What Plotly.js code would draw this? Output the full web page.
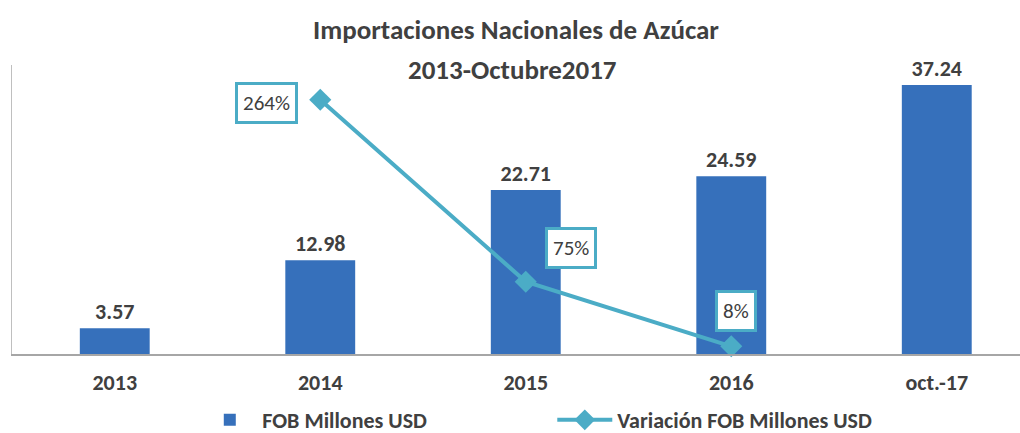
<!DOCTYPE html>
<html>
<head>
<meta charset="utf-8">
<script src="https://cdn.plot.ly/plotly-3.0.1.min.js"></script>
<style>html,body{margin:0;padding:0;background:#fff;}#chart{width:1020px;height:433px;}</style>
</head>
<body>
<div id="chart"></div>
<script>
const categories = ["2013", "2014", "2015", "2016", "oct.-17"];
const fobValues = [3.57, 12.98, 22.71, 24.59, 37.24];
const varCategories = ["2014", "2015", "2016"];
const varValues = [264, 75, 8];
const varLabels = ["264%", "75%", "8%"];
const seriesNames = ["FOB Millones USD", "Variación FOB Millones USD"];
const titleLine1 = "Importaciones Nacionales de Azúcar";
const titleLine2 = "2013-Octubre2017";

const FONT = "Carlito, Lato, 'Open Sans', sans-serif";
const DARK = "#404040";
const TEAL = "#4bacc6";

const labelShifts = [[-54, -3], [45, 34], [5, 35]];

const traces = [
  {
    type: "bar",
    x: categories,
    y: fobValues,
    name: seriesNames[0],
    width: 0.34,
    marker: {color: "#3670bb", line: {width: 0}},
    text: fobValues.map(v => v.toFixed(2)),
    textposition: "outside",
    cliponaxis: false,
    textfont: {family: FONT, size: 22, color: DARK, weight: "bold"},
    hoverinfo: "skip"
  },
  {
    type: "scatter",
    mode: "lines+markers",
    x: varCategories,
    y: varValues,
    yaxis: "y2",
    name: seriesNames[1],
    line: {color: TEAL, width: 4},
    marker: {symbol: "diamond", size: 17, color: TEAL},
    cliponaxis: false,
    hoverinfo: "skip"
  }
];

const annotations = varCategories.map((c, i) => ({
  x: categories.indexOf(c), y: varValues[i], xref: "x", yref: "y2",
  text: varLabels[i], showarrow: false,
  xshift: labelShifts[i][0], yshift: labelShifts[i][1],
  font: {family: FONT, size: 21, color: DARK},
  bgcolor: "#ffffff", bordercolor: TEAL, borderwidth: 3, borderpad: 5
}));
annotations.push({
  xref: "paper", yref: "paper", x: 0.497, y: 1, yanchor: "middle", yshift: -4,
  text: "<b>" + titleLine2 + "</b>", showarrow: false,
  font: {family: FONT, size: 27, color: DARK}
});

const layout = {
  width: 1020, height: 433,
  margin: {l: 12, r: 0, t: 65, b: 79},
  paper_bgcolor: "#ffffff", plot_bgcolor: "#ffffff",
  title: {
    text: "<b>" + titleLine1 + "</b>",
    x: 0.5, xref: "paper", xanchor: "center",
    y: 1 - 30 / 433, yref: "container", yanchor: "middle",
    font: {family: FONT, size: 27, color: DARK}
  },
  xaxis: {
    type: "category",
    range: [-0.5, 4.405],
    showline: true, linecolor: "#a6a6a6", linewidth: 2,
    ticks: "", showgrid: false, zeroline: false,
    tickfont: {family: FONT, size: 22, color: DARK, weight: "bold"},
    ticklabelstandoff: 8
  },
  yaxis: {
    range: [0, 40], showline: true, linecolor: "#bfbfbf", linewidth: 1,
    showticklabels: false, ticks: "", showgrid: false, zeroline: false
  },
  yaxis2: {
    range: [0, 300], overlaying: "y", side: "right",
    showline: false, showticklabels: false, ticks: "", showgrid: false, zeroline: false
  },
  showlegend: true,
  legend: {
    orientation: "h", x: 0.536, xanchor: "center",
    yref: "container", y: 13 / 433, yanchor: "middle",
    font: {family: FONT, size: 22, color: DARK, weight: "bold"},
    entrywidth: 285, itemwidth: 55
  },
  annotations: annotations
};

Plotly.newPlot("chart", traces, layout, {displayModeBar: false, staticPlot: true});
</script>
</body>
</html>
